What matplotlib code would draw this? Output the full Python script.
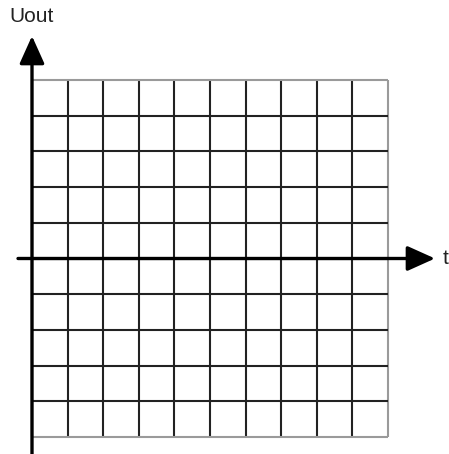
import matplotlib
matplotlib.use("Agg")
import matplotlib.pyplot as plt

# grid: 10 x 10 cells, t from 0 to 10, Uout from -5 to 5
t_lines = list(range(0, 11))
u_lines = list(range(-5, 6))
x_label = "t"
y_label = "Uout"

# pixel layout of the picture (449 x 454)
W, H = 449, 454
px_x0, px_x10 = 32, 388      # pixel columns of t=0 and t=10
px_y5, px_ym5 = 80, 437      # pixel rows of U=5 and U=-5
sx = (px_x10 - px_x0) / 10.0
sy = (px_ym5 - px_y5) / 10.0
px_y0 = (px_y5 + px_ym5) / 2.0

fig = plt.figure(figsize=(W / 100, H / 100), dpi=100)
ax = fig.add_axes([0, 0, 1, 1])
ax.set_xlim(-px_x0 / sx, (W - px_x0) / sx)
ax.set_ylim(-(H - px_y0) / sy, px_y0 / sy)
ax.axis("off")

dark = "#222222"
light = "#9a9a9a"

for x in t_lines:
    c = light if x == 10 else dark
    ax.plot([x, x], [-5, 5], color=c, lw=1.5, solid_capstyle="butt", zorder=1)
for y in u_lines:
    c = light if abs(y) == 5 else dark
    ax.plot([0, 10], [y, y], color=c, lw=1.5, solid_capstyle="butt", zorder=1)

arrow = dict(arrowstyle="-|>,head_length=1.0,head_width=0.45", mutation_scale=17,
             lw=2.4, color="black", shrinkA=0, shrinkB=0)
# vertical axis
ax.annotate("", xy=(0, (px_y0 - 36) / sy), xytext=(0, -(H - px_y0) / sy),
            arrowprops=arrow, zorder=3)
# horizontal axis
ax.annotate("", xy=((435 - px_x0) / sx, 0), xytext=((18 - px_x0) / sx, 0),
            arrowprops=arrow, zorder=3)

ax.text((9 - px_x0) / sx, (px_y0 - 17) / sy, y_label, fontsize=15,
        family="Liberation Sans", color="#222222", ha="left", va="center")
ax.text((443 - px_x0) / sx, 0, x_label, fontsize=15,
        family="Liberation Sans", color="#222222", ha="left", va="center")

fig.savefig("out.png", dpi=100)
